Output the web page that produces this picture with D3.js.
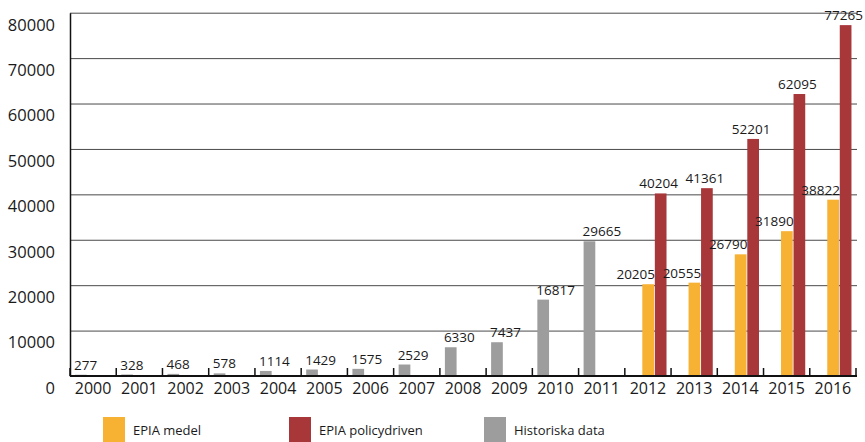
<!DOCTYPE html>
<html>
<head>
<meta charset="utf-8">
<script src="https://cdn.jsdelivr.net/npm/d3@7"></script>
<style>
  html, body { margin: 0; padding: 0; background: #fff; }
  svg { display: block; font-family: "Open Sans", "DejaVu Sans", sans-serif; }
</style>
</head>
<body>
<svg id="chart" width="865" height="442"></svg>
<script>
// Installed PV capacity (MW), history and EPIA scenarios
const years = ["2000","2001","2002","2003","2004","2005","2006","2007","2008",
               "2009","2010","2011","2012","2013","2014","2015","2016"];
const historiska = [277, 328, 468, 578, 1114, 1429, 1575, 2529, 6330, 7437, 16817, 29665,
                    null, null, null, null, null];
const epiaMedel = [null, null, null, null, null, null, null, null, null, null, null, null,
                   20205, 20555, 26790, 31890, 38822];
const epiaPolicy = [null, null, null, null, null, null, null, null, null, null, null, null,
                    40204, 41361, 52201, 62095, 77265];
const yTicks = [0, 10000, 20000, 30000, 40000, 50000, 60000, 70000, 80000];

const seriesNames = ["Historiska data", "EPIA medel", "EPIA policydriven"];
const seriesColors = ["#9d9d9e", "#f7b133", "#a8373a"];
const legendOrder = ["EPIA medel", "EPIA policydriven", "Historiska data"];

const svg = d3.select("#chart");
const margin = { top: 12.7, right: 9, bottom: 66, left: 70 };
const W = 865, H = 442;
const innerW = W - margin.left - margin.right;
const innerH = H - margin.top - margin.bottom;

const x = d3.scaleBand().domain(years).range([margin.left, margin.left + innerW]).padding(0);
const xSub = d3.scaleBand().domain(seriesNames).range([5, 41.7]).paddingInner(0.064);
const y = d3.scaleLinear().domain([0, 80000]).range([margin.top + innerH, margin.top]);
const color = d3.scaleOrdinal().domain(seriesNames).range(seriesColors);

// gridlines
svg.append("g")
  .attr("transform", `translate(${margin.left},0)`)
  .call(d3.axisLeft(y).tickValues(yTicks.filter(v => v > 0)).tickSize(-innerW - 1).tickFormat(""))
  .call(g => g.select(".domain").remove())
  .call(g => g.selectAll("line").attr("stroke", "#4a4a4a").attr("stroke-width", 1));

// y tick labels
svg.append("g")
  .attr("transform", `translate(${margin.left},0)`)
  .call(d3.axisLeft(y).tickValues(yTicks).tickSize(0).tickPadding(15).tickFormat(d3.format("d")))
  .call(g => g.select(".domain").attr("stroke", "#111").attr("stroke-width", 1.5))
  .call(g => g.selectAll("text")
    .attr("dy", "1.05em")
    .attr("font-size", 16.5)
    .attr("fill", "#1a1a1a")
    .attr("font-family", "'Open Sans', sans-serif"));

// bars
const rows = [
  { name: "Historiska data", values: historiska },
  { name: "EPIA medel", values: epiaMedel },
  { name: "EPIA policydriven", values: epiaPolicy }
];
const bars = [];
rows.forEach(r => r.values.forEach((v, i) => {
  if (v != null) bars.push({ series: r.name, year: years[i], value: v });
}));

svg.append("g").selectAll("rect").data(bars).join("rect")
  .attr("x", d => x(d.year) + xSub(d.series))
  .attr("width", xSub.bandwidth())
  .attr("y", d => y(d.value))
  .attr("height", d => y(0) - y(d.value))
  .attr("fill", d => color(d.series));

// value labels
svg.append("g").selectAll("text").data(bars).join("text")
  .attr("x", d => {
    const bx = x(d.year) + xSub(d.series);
    if (d.series === "Historiska data") return bx - 1;
    if (d.series === "EPIA medel") return bx + xSub.bandwidth() + 1;
    return bx + xSub.bandwidth() / 2 - 2;
  })
  .attr("y", d => y(d.value) - 5)
  .attr("text-anchor", d => d.series === "Historiska data" ? "start"
                          : d.series === "EPIA medel" ? "end" : "middle")
  .attr("font-size", 13.5)
  .attr("fill", "#1a1a1a")
  .text(d => d.value);

// baseline with inward ticks at category boundaries
const base = y(0);
svg.append("line")
  .attr("x1", margin.left).attr("x2", margin.left + innerW + 1)
  .attr("y1", base).attr("y2", base)
  .attr("stroke", "#111").attr("stroke-width", 2);
const tickXs = years.map(yr => x(yr)).concat([x(years[years.length - 1]) + x.bandwidth()]);
svg.append("g").selectAll("line").data(tickXs).join("line")
  .attr("x1", d => d).attr("x2", d => d)
  .attr("y1", base).attr("y2", base - 8)
  .attr("stroke", "#111").attr("stroke-width", 1.5);

// x labels
svg.append("g")
  .attr("transform", `translate(0,${base})`)
  .call(d3.axisBottom(x).tickSize(0).tickPadding(7))
  .call(g => g.select(".domain").remove())
  .call(g => g.selectAll("text")
    .attr("font-size", 16)
    .attr("fill", "#1a1a1a")
    .attr("font-family", "'Open Sans', sans-serif"));

// legend
const legendX = [103, 289, 484];
const legend = svg.append("g").selectAll("g").data(legendOrder).join("g")
  .attr("transform", (d, i) => `translate(${legendX[i]},417)`);
legend.append("rect")
  .attr("width", 22).attr("height", 25)
  .attr("fill", d => color(d));
legend.append("text")
  .attr("x", 30).attr("y", 13)
  .attr("dy", "0.35em")
  .attr("font-size", 13)
  .attr("fill", "#1a1a1a")
  .text(d => d);
</script>
</body>
</html>
